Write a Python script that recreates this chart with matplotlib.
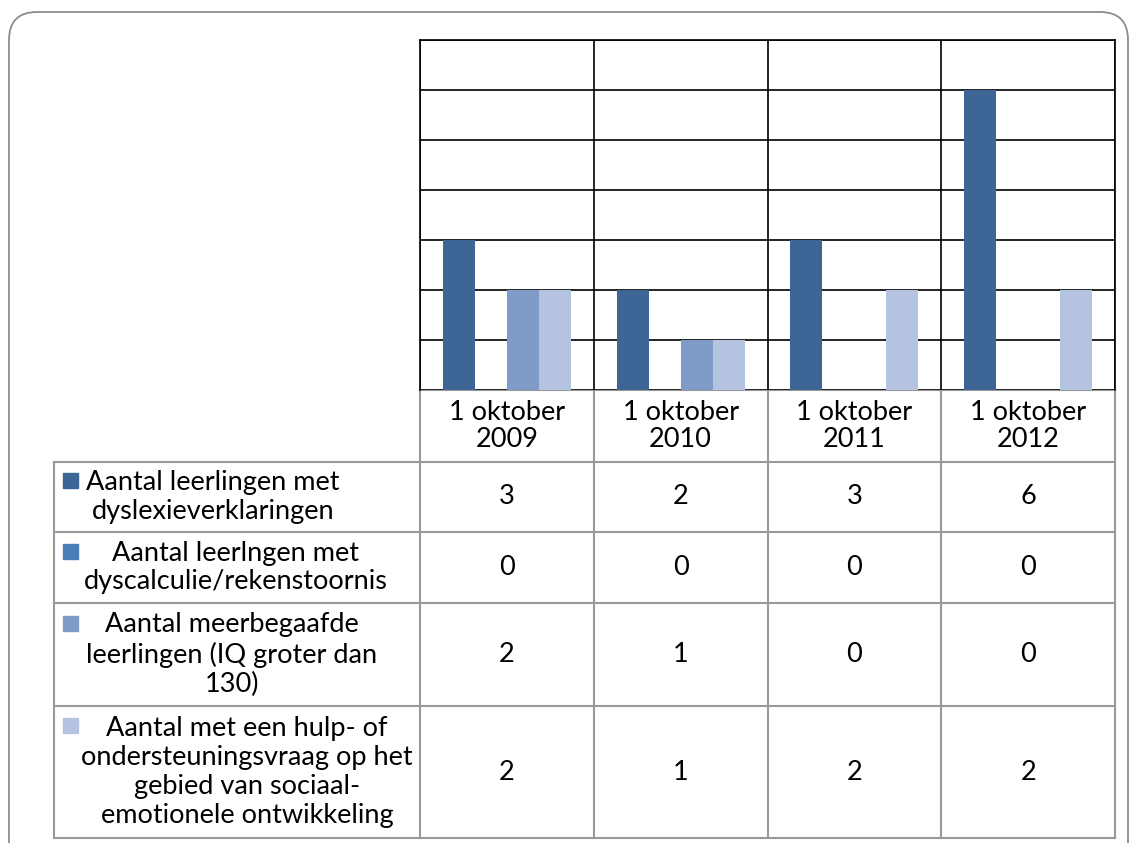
import matplotlib
matplotlib.use('Agg')
import matplotlib.pyplot as plt
from matplotlib.patches import FancyBboxPatch, Rectangle

### Data
categories = ['1 oktober\n2009', '1 oktober\n2010', '1 oktober\n2011', '1 oktober\n2012']
series_names = ['Aantal leerlingen met\ndyslexieverklaringen',
                'Aantal leerlngen met\ndyscalculie/rekenstoornis',
                'Aantal meerbegaafde\nleerlingen (IQ groter dan\n130)',
                'Aantal met een hulp- of\nondersteuningsvraag op het\ngebied van sociaal-\nemotionele ontwikkeling']
dyslexie = [3, 2, 3, 6]
dyscalculie = [0, 0, 0, 0]
meerbegaafd = [2, 1, 0, 0]
hulpvraag = [2, 1, 2, 2]
series_values = [dyslexie, dyscalculie, meerbegaafd, hulpvraag]
colors = ['#3D6596', '#4A7EBB', '#7F9CC9', '#B4C3DF']

### Layout (pixels)
W, H = 1132, 843
plot_left, plot_right, plot_top, plot_bottom = 420, 1115, 40, 390
table_left = 54
row_edges = [390, 462, 532, 603, 706, 838]
label_centers = [213, 236, 232, 247]
font = 'Lato'
fs = 19.5
grid_col = '#999999'

fig = plt.figure(figsize=(W / 100, H / 100), dpi=100)

# overlay axes in pixel coordinates for the frame and the table
over = fig.add_axes([0, 0, 1, 1])
over.set_xlim(0, W)
over.set_ylim(H, 0)
over.axis('off')

frame = FancyBboxPatch((9, 12), 1119, 900, boxstyle='round,pad=0,rounding_size=28',
                       fill=False, edgecolor='#8c8c8c', linewidth=1.3, zorder=0)
over.add_patch(frame)

# bar chart
ax = fig.add_axes([plot_left / W, 1 - plot_bottom / H,
                   (plot_right - plot_left) / W, (plot_bottom - plot_top) / H])
n = len(series_values)
bw = 0.184
for i, vals in enumerate(series_values):
    xs = [k + (i - (n - 1) / 2) * bw for k in range(len(categories))]
    ax.bar(xs, vals, width=bw, color=colors[i], zorder=3)
ax.set_xlim(-0.5, len(categories) - 0.5)
ax.set_ylim(0, 7)
ax.set_yticks(range(0, 8))
ax.yaxis.grid(True, color='black', linewidth=1.2, zorder=1)
for k in range(len(categories) + 1):
    ax.axvline(k - 0.5, color='black', linewidth=1.2, zorder=1)
ax.set_xticks([])
ax.tick_params(left=False, labelleft=False)
for s in ['left', 'right', 'top']:
    ax.spines[s].set_linewidth(1.2)
ax.spines['bottom'].set_visible(False)

# table
col_w = (plot_right - plot_left) / len(categories)
col_edges = [plot_left + k * col_w for k in range(len(categories) + 1)]

over.plot([plot_left, plot_right], [row_edges[0], row_edges[0]], color=grid_col, lw=1.5)
for r in row_edges[1:]:
    over.plot([table_left, plot_right], [r, r], color=grid_col, lw=1.5)
over.plot([table_left, table_left], [row_edges[1], row_edges[-1]], color=grid_col, lw=1.5)
for x in col_edges:
    over.plot([x, x], [row_edges[0], row_edges[-1]], color=grid_col, lw=1.5)

for k, cat in enumerate(categories):
    cx = (col_edges[k] + col_edges[k + 1]) / 2
    over.text(cx, (row_edges[0] + row_edges[1]) / 2, cat, ha='center', va='center',
              fontsize=fs, family=font, linespacing=1.12)

for i, name in enumerate(series_names):
    top, bot = row_edges[i + 1], row_edges[i + 2]
    cy = (top + bot) / 2
    nlines = name.count('\n') + 1
    first_line = cy - (nlines - 1) * 15
    over.add_patch(Rectangle((63, first_line - 9), 15, 15, color=colors[i]))
    over.text(label_centers[i], cy, name, ha='center', va='center',
              fontsize=fs, family=font, linespacing=1.2)
    for k, v in enumerate(series_values[i]):
        cx = (col_edges[k] + col_edges[k + 1]) / 2
        over.text(cx, cy, str(v), ha='center', va='center', fontsize=fs, family=font)

fig.savefig('out.png', dpi=100)
